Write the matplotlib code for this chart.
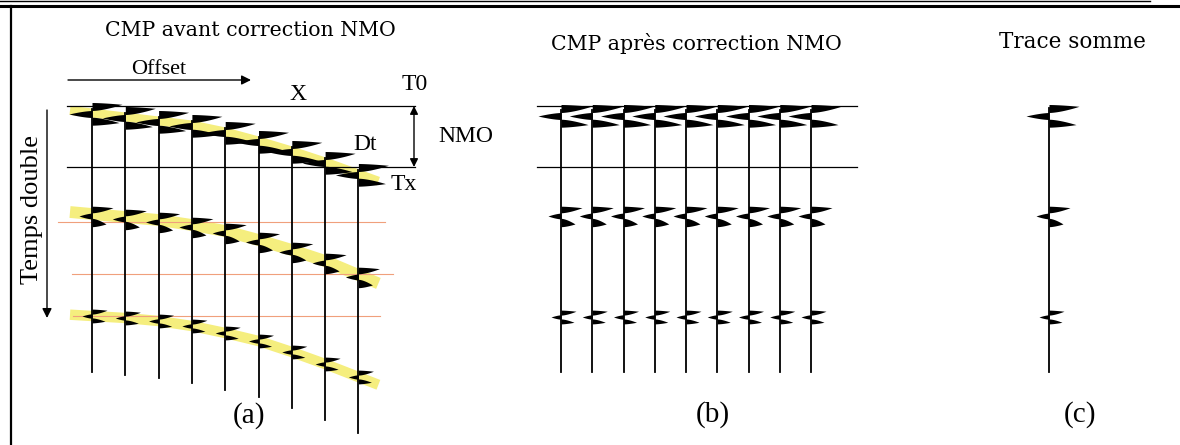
import numpy as np
import matplotlib
matplotlib.use("Agg")
import matplotlib.pyplot as plt
from matplotlib.patches import FancyArrowPatch

# ---------------- data (vertical unit = image px) ----------------
trace_index = [0, 1, 2, 3, 4, 5, 6, 7, 8]
# panel (a) : arrival time of each reflector on each offset trace (before NMO)
event1_a = [114, 118, 122, 126, 133, 142, 152, 163, 175]
event2_a = [216, 219, 222, 227, 233, 242, 252, 263, 277]
event3_a = [316, 318, 321, 326, 333, 341, 352, 364, 377]
trace_end_a = [372, 375, 378, 383, 390, 397, 408, 420, 433]
# panels (b) and (c) : zero-offset times after NMO correction / stack
t0_events = [116, 216, 317]
trace_end_bc = 372
# wavelet lobe amplitudes for each reflector (top, middle, bottom)
lobe_top = [30, 21, 15]
lobe_mid = [-23, -13, -10]
lobe_bot = [27, 14, 13]
# reference lines
t0_line = 106
tx_line = 167
red_lines = [222, 274, 316]

# ---------------- figure ----------------
fig = plt.figure(figsize=(11.8, 4.45), dpi=100)
ax = fig.add_axes([0, 0, 1, 1])
ax.set_xlim(0, 1180)
ax.set_ylim(445, 0)
ax.axis("off")

SERIF = "Liberation Serif"
TITLE = "DejaVu Serif"

# lobe geometry per event: centre offsets, half thickness, tip skew
lobe_off = [(-7.5, 0.0, 7.2), (-6.5, 0.0, 6.5), (-4.4, 0.0, 4.4)]
lobe_h = [(4.0, 3.5, 4.0), (3.3, 2.9, 4.2), (2.5, 2.2, 2.5)]
lobe_skew = (-0.55, 0.0, 0.35)


def draw_lobe(x, c, amp, h, skew):
    tip = c + skew * h
    t1 = np.linspace(c - h, tip, 60)
    t2 = np.linspace(tip, c + h, 60)
    f1 = ((t1 - (c - h)) / (tip - (c - h))) ** 0.65
    f2 = (((c + h) - t2) / ((c + h) - tip)) ** 0.65
    t = np.concatenate([t1, t2])
    f = np.concatenate([f1, f2])
    ax.fill_betweenx(t, x, x + amp * f, color="black", lw=0, zorder=5)


def draw_wavelet(x, tc, k):
    amps = (lobe_top[k], lobe_mid[k], lobe_bot[k])
    for j in range(3):
        draw_lobe(x, tc + lobe_off[k][j], amps[j], lobe_h[k][j], lobe_skew[j])


# frame
ax.plot([0, 1150], [1, 1], color="black", lw=1.0)
ax.plot([0, 1180], [6, 6], color="black", lw=2.2)
ax.plot([11, 11], [6, 445], color="black", lw=1.6)

# ---------------- panel (a) ----------------
xa0, dxa = 92, 33.3
xa = [xa0 + i * dxa for i in trace_index]

band_off = [-1, -2, 0]
band_lw = [6.5, 8.5, 7.5]
for k, ev in enumerate([event1_a, event2_a, event3_a]):
    ev = np.array(ev, float)
    xs = np.array(xa)
    y_first = ev[0] - (ev[1] - ev[0]) * 22 / dxa
    y_last = ev[-1] + (ev[-1] - ev[-2]) * 20 / dxa
    bx = np.concatenate([[xs[0] - 22], xs, [xs[-1] + 20]])
    by = np.concatenate([[y_first], ev, [y_last]]) + band_off[k]
    ax.plot(bx, by, color="#f5ee7e", lw=band_lw[k], solid_capstyle="butt",
            solid_joinstyle="round", zorder=1)

ax.plot([58, 385], [red_lines[0]] * 2, color="#f0a07c", lw=0.8, zorder=2)
ax.plot([72, 393], [red_lines[1]] * 2, color="#f0a07c", lw=0.8, zorder=2)
ax.plot([73, 380], [red_lines[2]] * 2, color="#f0a07c", lw=0.8, zorder=2)

ax.plot([67, 415], [t0_line] * 2, color="black", lw=0.9, zorder=3)
ax.plot([67, 415], [tx_line] * 2, color="black", lw=0.9, zorder=3)

for i, x in enumerate(xa):
    ax.plot([x, x], [event1_a[i] - 5, trace_end_a[i]], color="black", lw=1.3, zorder=4)
    draw_wavelet(x, event1_a[i], 0)
    draw_wavelet(x, event2_a[i], 1)
    draw_wavelet(x, event3_a[i], 2)

# arrows / labels of (a)
ax.add_patch(FancyArrowPatch((68, 80), (251, 80), arrowstyle="-|>", mutation_scale=14,
                             color="black", lw=1.0, shrinkA=0, shrinkB=0))
ax.add_patch(FancyArrowPatch((414, t0_line), (414, tx_line), arrowstyle="<|-|>",
                             mutation_scale=12, color="black", lw=1.0, shrinkA=0, shrinkB=0))
ax.add_patch(FancyArrowPatch((47, 110), (47, 318), arrowstyle="-|>", mutation_scale=14,
                             color="black", lw=1.0, shrinkA=0, shrinkB=0))

ax.text(250, 31, "CMP avant correction NMO", family=TITLE, fontsize=14.8, ha="center", va="center")
ax.text(159, 69, "Offset", family=SERIF, fontsize=16, ha="center", va="center")
ax.text(298, 95, "X", family=SERIF, fontsize=17, ha="center", va="center")
ax.text(415, 85, "T0", family=SERIF, fontsize=17, ha="center", va="center")
ax.text(365, 145, "Dt", family=SERIF, fontsize=17, ha="center", va="center")
ax.text(466, 136, "NMO", family=SERIF, fontsize=17, ha="center", va="center")
ax.text(404, 185, "Tx", family=SERIF, fontsize=17, ha="center", va="center")
ax.text(32, 210, "Temps double", family=SERIF, fontsize=19, ha="center", va="center", rotation=90)
ax.text(249, 416, "(a)", family=SERIF, fontsize=21, ha="center", va="center")

# ---------------- panel (b) ----------------
xb0, dxb = 561, 31.25
xb = [xb0 + i * dxb for i in trace_index]
ax.plot([537, 857], [t0_line] * 2, color="black", lw=0.9, zorder=3)
ax.plot([537, 857], [tx_line] * 2, color="black", lw=0.9, zorder=3)
for x in xb:
    ax.plot([x, x], [t0_events[0] - 6, trace_end_bc], color="black", lw=1.3, zorder=4)
    for k, tc in enumerate(t0_events):
        draw_wavelet(x, tc, k)
ax.text(696, 44, "CMP après correction NMO", family=TITLE, fontsize=14.8, ha="center", va="center")
ax.text(713, 415, "(b)", family=SERIF, fontsize=21, ha="center", va="center")

# ---------------- panel (c) ----------------
xc = 1049
ax.plot([xc, xc], [t0_events[0] - 8, trace_end_bc], color="black", lw=1.3, zorder=4)
for k, tc in enumerate(t0_events):
    draw_wavelet(xc, tc, k)
ax.text(1072, 42, "Trace somme", family=TITLE, fontsize=15.5, ha="center", va="center")
ax.text(1080, 415, "(c)", family=SERIF, fontsize=21, ha="center", va="center")

fig.savefig("out.png", dpi=100)
